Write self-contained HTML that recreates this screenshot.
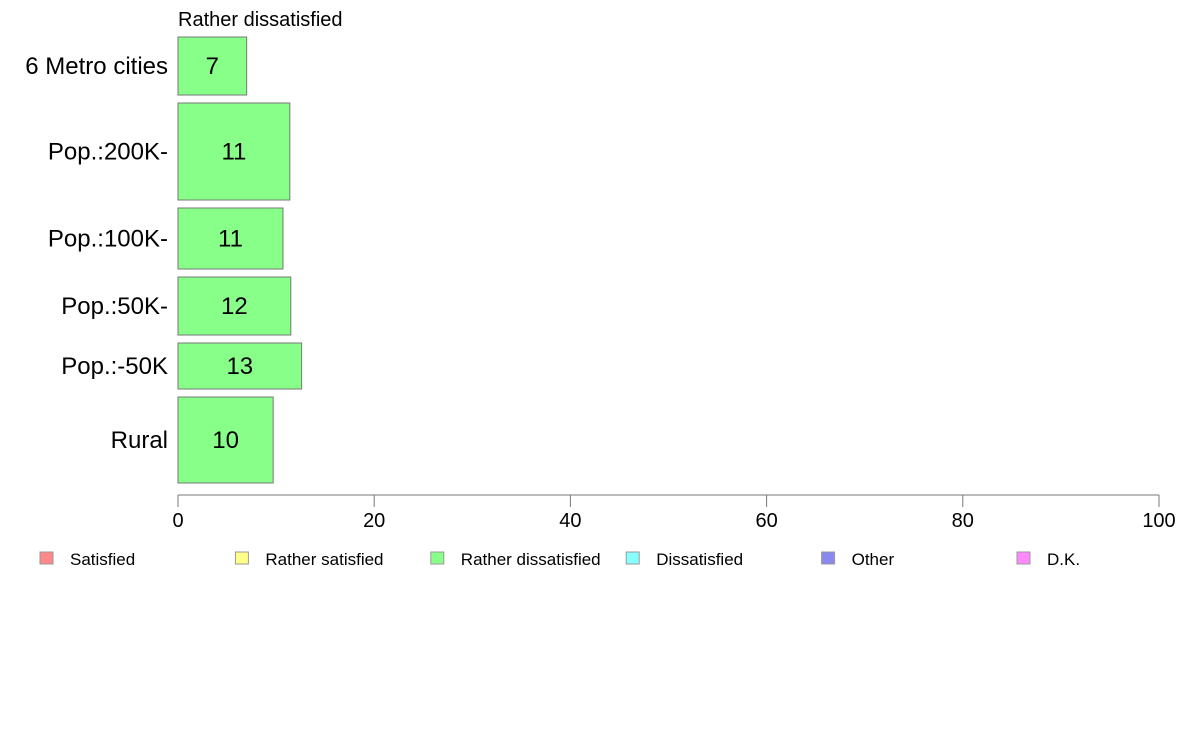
<!DOCTYPE html>
<html><head><meta charset="utf-8"><style>
html,body{margin:0;padding:0;background:#fff;}
svg{display:block;font-family:"Liberation Sans",Arial,sans-serif;}
</style></head><body>
<svg id="chart" width="1188" height="736" viewBox="0 0 1188 736">
<text x="178" y="26" font-size="20" fill="#000">Rather dissatisfied</text>
<g id="bars"></g>
<g id="axis"></g>
<g id="legend"></g>
</svg>
<script>
const categories = ["6 Metro cities","Pop.:200K-","Pop.:100K-","Pop.:50K-","Pop.:-50K","Rural"];
const values = [7.0, 11.4, 10.7, 11.5, 12.6, 9.7];
const labels = ["7","11","11","12","13","10"];
const weights = [58, 97, 61, 58, 46, 86];
const ticks = [0,20,40,60,80,100];
const legendItems = ["Satisfied","Rather satisfied","Rather dissatisfied","Dissatisfied","Other","D.K."];
const legendColors = ["#ff8888","#ffff88","#88ff88","#88ffff","#8888ee","#ff88ff"];

const NS="http://www.w3.org/2000/svg";
const x0=178, x1=1159, yTop=37, gap=8;
const xs=v=>x0+(v/100)*(x1-x0);
function mk(tag,attrs,parent){const e=document.createElementNS(NS,tag);for(const k in attrs)e.setAttribute(k,attrs[k]);parent.appendChild(e);return e;}
const bars=document.getElementById('bars');
let y=yTop;
categories.forEach((c,i)=>{
  const h=weights[i];
  const r=mk('rect',{x:x0,y:y,width:xs(values[i])-x0,height:h,fill:'#88ff88',stroke:'#777','stroke-width':1},bars);
  
  
  const t=mk('text',{x:(x0+xs(values[i]))/2,y:y+h/2+8,'font-size':24,'text-anchor':'middle',fill:'#000'},bars);
  t.textContent=labels[i];
  
  
  const l=mk('text',{x:168,y:y+h/2+8,'font-size':24,'text-anchor':'end',fill:'#000'},bars);
  l.textContent=c;
  
  
  y+=h+gap;
});
const axis=document.getElementById('axis');
const al=mk('line',{x1:x0,x2:x1,y1:495,y2:495,stroke:'#777','stroke-width':1},axis);


ticks.forEach(v=>{
  const tl=mk('line',{x1:xs(v),x2:xs(v),y1:495,y2:507,stroke:'#777','stroke-width':1},axis);
  
  
  const tt=mk('text',{x:xs(v),y:527,'font-size':20,'text-anchor':'middle',fill:'#000'},axis);
  tt.textContent=v;
  
  
});
const lg=document.getElementById('legend');
legendItems.forEach((n,i)=>{
  const lx=40+i*195.4;
  const s=mk('rect',{x:lx,y:552,width:13,height:12,fill:legendColors[i],stroke:'#999','stroke-width':1},lg);
  
  
  const t=mk('text',{x:lx+30,y:565,'font-size':17,fill:'#000'},lg);
  t.textContent=n;
  
  
});
</script>
</body></html>
